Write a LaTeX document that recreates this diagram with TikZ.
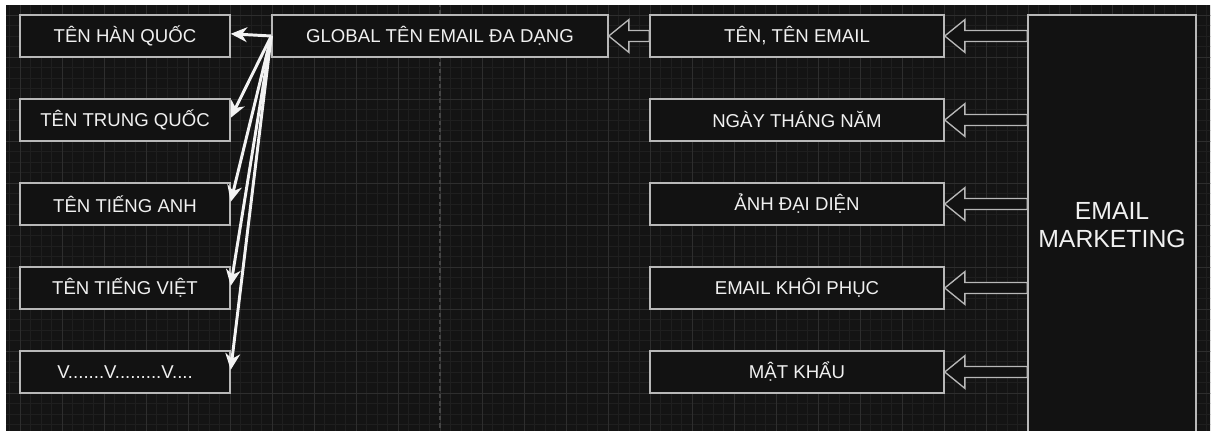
\documentclass[tikz,border=0pt]{standalone}
\usepackage{fontspec}
\setmainfont{Liberation Sans}
\usetikzlibrary{arrows.meta,calc}

\definecolor{canvas}{HTML}{141414}
\definecolor{gridminor}{HTML}{1F1F1F}
\definecolor{gridmajor}{HTML}{2E2E2E}
\definecolor{pageline}{HTML}{454545}
\definecolor{boxfill}{HTML}{121212}
\definecolor{boxline}{HTML}{B8B8B8}
\definecolor{textcol}{HTML}{F0F0F0}

\tikzset{
	namebox/.style={draw=boxline, fill=boxfill, line width=1pt, minimum width=5cm, minimum height=1cm,
		inner sep=0pt, text=textcol, font=\fontsize{12.6}{15}\selectfont},
	link/.style={draw=white!95!black, line width=2pt, -{Stealth[length=11pt,width=10pt,inset=3.5pt]}},
	blockline/.style={draw=boxline, fill=boxfill, line width=0.9pt, line join=miter},
}

% hollow arrow from #1 to #2
\newcommand{\blockarrow}[2]{%
	\draw[blockline] (#2.east) -- ++(0.48,0.39) -- ++(0,-0.26)
	-- ($(#1.west |- #2.east)+(0,0.13)$) -- ++(0,-0.26)
	-- ($(#2.east)+(0.48,-0.13)$) -- ++(0,-0.26) -- cycle;}

\begin{document}
\begin{tikzpicture}
	\fill[white] (-0.4762,0.3571) rectangle (28.5,-10);
	\useasboundingbox (-0.4762,0.3571) rectangle (28.5,-10);
	\begin{scope}
		\clip (-0.3333,0.2381) rectangle (28.3333,-9.881);
		\fill[canvas] (-1,1) rectangle (29,-11);
		\draw[gridminor, line width=0.5pt, step=0.25] (-1,-11) grid (29,1);
		\draw[gridmajor, line width=0.6pt, step=1] (-1,-11) grid (29,1);
		\draw[pageline, line width=0.8pt, dash pattern=on 3pt off 2pt] (10,1) -- (10,-11);
		
		\node[namebox] (han) at (2.5,-0.5) {TÊN HÀN QUỐC};
		\node[namebox] (trung) at (2.5,-2.5) {TÊN TRUNG QUỐC};
		\node[namebox] (tienganh) at (2.5,-4.5) {TÊN TIẾNG ANH};
		\node[namebox] (viet) at (2.5,-6.5) {TÊN TIẾNG VIỆT};
		\node[namebox] (vvv) at (2.5,-8.5) {V.......V.........V....};
		
		\node[namebox, minimum width=8cm] (global) at (10,-0.5) {GLOBAL TÊN EMAIL ĐA DẠNG};
		
		\node[namebox, minimum width=7cm] (ten) at (18.5,-0.5) {TÊN, TÊN EMAIL};
		\node[namebox, minimum width=7cm] (ngay) at (18.5,-2.5) {NGÀY THÁNG NĂM};
		\node[namebox, minimum width=7cm] (avatar) at (18.5,-4.5) {ẢNH ĐẠI DIỆN};
		\node[namebox, minimum width=7cm] (khoiphuc) at (18.5,-6.5) {EMAIL KHÔI PHỤC};
		\node[namebox, minimum width=7cm] (matkhau) at (18.5,-8.5) {MẬT KHẨU};
		
		\node[namebox, minimum width=4cm, minimum height=10cm, align=center,
			font=\fontsize{16.8}{19}\selectfont] (email) at (26,-5) {EMAIL\\MARKETING};
		
		\foreach \to in {ten,ngay,avatar,khoiphuc,matkhau}
		\blockarrow{email}{\to};
		\blockarrow{ten}{global};
		
		\foreach \to in {han,trung,tienganh,viet,vvv}
		\draw[link] (global.west) -- ([yshift=1.5pt]\to.east);
	\end{scope}
\end{tikzpicture}
\end{document}
